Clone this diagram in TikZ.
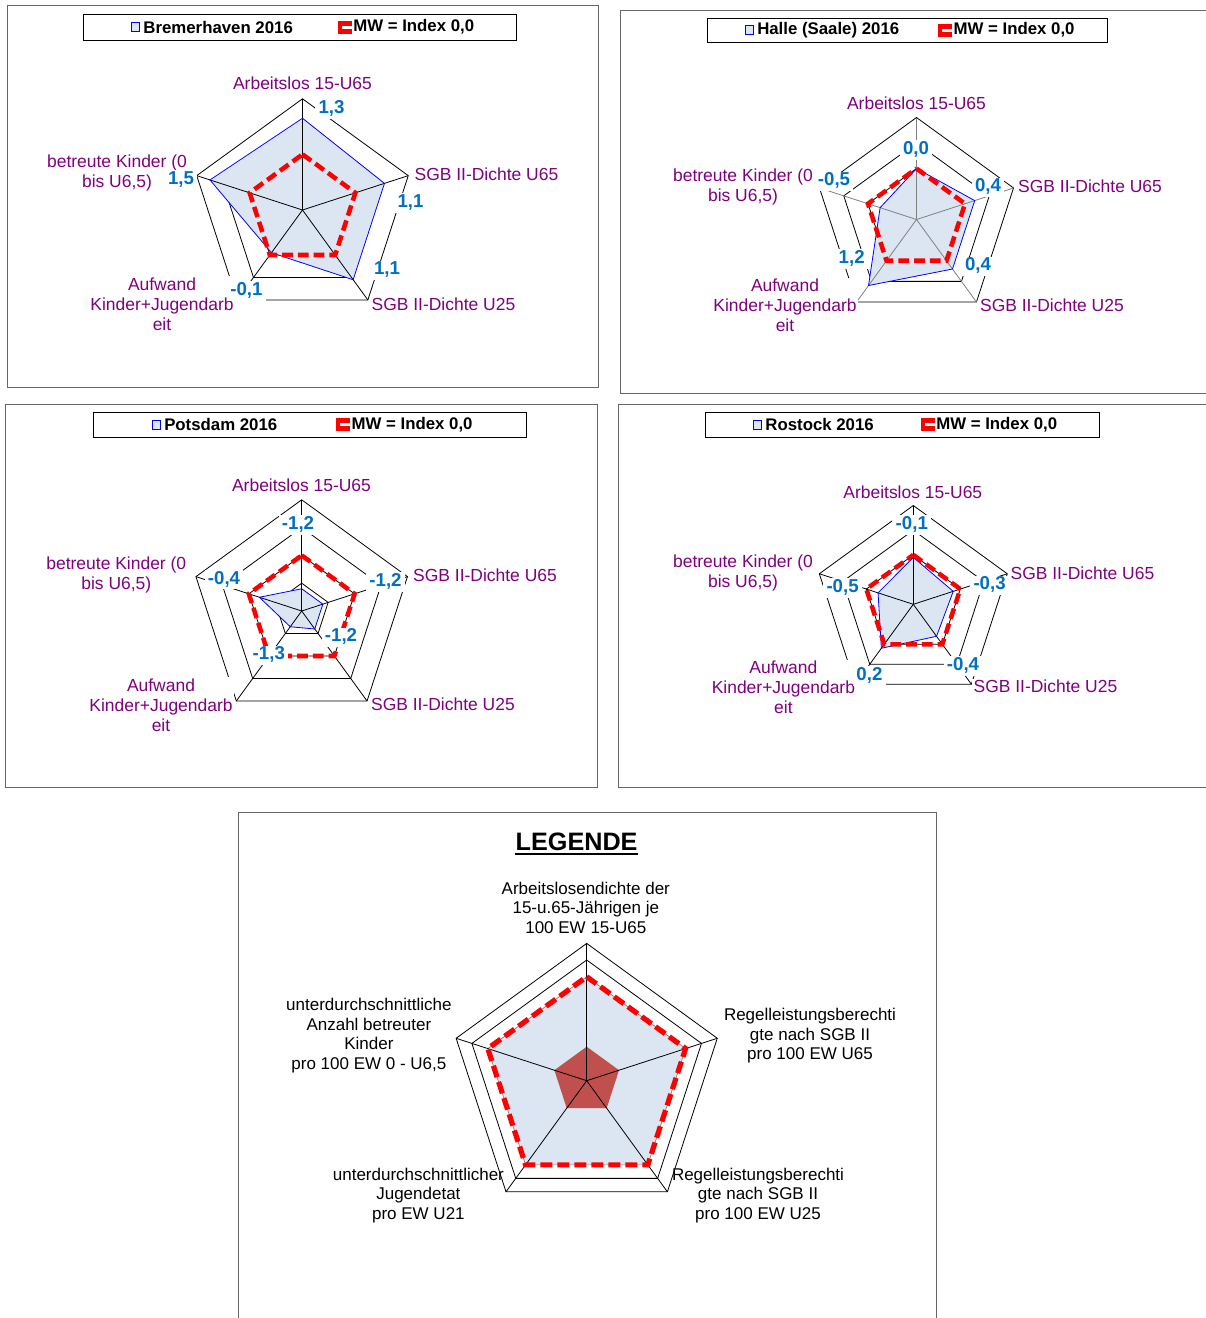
\documentclass[tikz,border=0pt]{standalone}
\usepackage{fontspec}
\setmainfont{Liberation Sans}
\usetikzlibrary{positioning}
\definecolor{catpurple}{RGB}{128,0,128}
\definecolor{valblue}{RGB}{0,112,192}
\definecolor{serfill}{RGB}{220,230,242}
\definecolor{mwred}{RGB}{255,0,0}
\definecolor{kernred}{RGB}{192,80,77}
% radar: centre, unit, spoke colour, five values (top, then clockwise)
\newcommand{\radar}[8]{%
  \begin{scope}[shift={#1}]
    \foreach \r in {1,2,3,4}
      \draw[rgrid] (-90:{#2*\r}) \foreach \a in {-18,54,126,198} {-- (\a:{#2*\r})} -- cycle;
    \fill[rfill] (-90:{#2*(#4+2)}) -- (-18:{#2*(#5+2)}) -- (54:{#2*(#6+2)}) -- (126:{#2*(#7+2)}) -- (198:{#2*(#8+2)}) -- cycle;
    \foreach \a in {-90,-18,54,126,198}
      \draw[#3, line width=0.6pt] (0,0) -- (\a:{4*#2});
    \draw[rline] (-90:{#2*(#4+2)}) -- (-18:{#2*(#5+2)}) -- (54:{#2*(#6+2)}) -- (126:{#2*(#7+2)}) -- (198:{#2*(#8+2)}) -- cycle;
    \draw[rmw] (-90:{2*#2}) \foreach \a in {-18,54,126,198} {-- (\a:{2*#2})} -- cycle;
  \end{scope}}
\newcommand{\cats}[6]{%
  \node[catl] (#1-arb) at (#2) {Arbeitslos 15-U65};
  \node[catl, anchor=west] (#1-u65) at (#3) {SGB II-Dichte U65};
  \node[catl, anchor=west] (#1-u25) at (#4) {SGB II-Dichte U25};
  \node[catl] (#1-auf) at (#5) {Aufwand\\Kinder+Jugendarb\\eit};
  \node[catl] (#1-bet) at (#6) {betreute Kinder (0\\bis U6,5)};}
\newcommand{\vlab}[3]{\node[vall] (#1) at (#2) {#3};}
\newcommand{\lgnd}[7]{%
  \draw[lgbox] (#2) rectangle (#3);
  \draw[lgsq] (#4,{#6-4.5}) rectangle ++(8,9);
  \node[lgtxt] (#1-ttl) at ({#4+11.5},#6) {#7};
  \fill[mwred] (#5,{#6-6.5}) rectangle ++(13.5,13);
  \fill[white] ({#5+3.5},{#6-1.5}) rectangle ++(10,3);
  \node[lgtxt] (#1-mw) at ({#5+15},#6) {MW = Index 0,0};}
\tikzset{
  frm/.style={draw=black!60, line width=0.75pt},
  lgbox/.style={draw=black, line width=0.75pt},
  lgsq/.style={draw=blue, fill=serfill, line width=0.6pt},
  lgtxt/.style={font=\fontsize{12.6}{15}\selectfont\bfseries, anchor=west, inner sep=0pt},
  rgrid/.style={black, line width=0.6pt},
  rfill/.style={fill=serfill},
  rline/.style={draw=blue, line width=0.6pt},
  rmw/.style={draw=mwred, line width=3.4pt, dash pattern=on 8pt off 3.8pt},
  catl/.style={font=\fontsize{13.1}{15}\selectfont, text=catpurple, align=center, fill=white, inner sep=1pt},
  vall/.style={font=\fontsize{14}{15}\selectfont\bfseries, text=valblue, fill=white,
    inner xsep=2.5pt, inner ysep=1.5pt, text height=0.9em, text depth=0.25em},
  leglab/.style={font=\fontsize{12.75}{14.6}\selectfont, align=center, inner sep=1pt},
}
\begin{document}
\begin{tikzpicture}[x=0.75pt,y=-0.75pt]
\useasboundingbox (0,0) rectangle (1206,1318);
% frames
\draw[frm] (7,5) rectangle (598,387);
\draw[frm] (1210,10) -- (620.7,10) -- (620.7,393.3) -- (1210,393.3);
\draw[frm] (5.7,404) rectangle (597,787.7);
\draw[frm] (1210,404) -- (618,404) -- (618,787.7) -- (1210,787.7);
\draw[frm] (238.2,1320) -- (238.2,812.7) -- (936.4,812.7) -- (936.4,1320);
% Bremerhaven
\radar{(302.5,210)}{27.8}{black}{1.3}{1.1}{1.1}{-0.1}{1.5}
\cats{bh}{302.5,83}{413,174}{370,304}{162,304}{117,173}
\vlab{bh-v1}{331.5,109}{1,3}
\vlab{bh-v2}{410.5,203}{1,1}
\vlab{bh-v3}{387,270.5}{1,1}
\vlab{bh-v4}{246.4,291}{-0,1}
\vlab{bh-v5}{181,180}{1,5}
\lgnd{bh}{83.5,14.7}{516,40}{131.7}{338}{27}{Bremerhaven 2016}
% Halle
\radar{(916.5,219.5)}{25.5}{gray}{0.0}{0.4}{0.4}{1.2}{-0.5}
\cats{ha}{916.5,103}{1016.6,186.5}{978.5,305.5}{785,305.5}{743,186.5}
\vlab{ha-v1}{916,150}{0,0}
\vlab{ha-v2}{988,187.5}{0,4}
\vlab{ha-v3}{978,266.5}{0,4}
\vlab{ha-v4}{851.7,259}{1,2}
\vlab{ha-v5}{834,181.5}{-0,5}
\lgnd{ha}{707.3,18.3}{1107,42.7}{745.5}{938.4}{30}{Halle (Saale) 2016}
% Potsdam
\radar{(301.7,611)}{27.8}{black}{-1.2}{-1.2}{-1.2}{-1.3}{-0.4}
\cats{po}{301.5,485}{411.6,575}{369.5,704.7}{161,705}{116.3,575}
\vlab{po-v1}{298,525}{-1,2}
\vlab{po-v2}{385.5,582}{-1,2}
\vlab{po-v3}{341,637.5}{-1,2}
\vlab{po-v4}{268.8,655.5}{-1,3}
\vlab{po-v5}{224,579.7}{-0,4}
\lgnd{po}{93,412.7}{526,437.3}{152.5}{336.4}{424.5}{Potsdam 2016}
% Rostock
\radar{(913.3,604.3)}{24.7}{black}{-0.1}{-0.3}{-0.4}{0.2}{-0.5}
\cats{ro}{912.8,492.5}{1009,573}{972,686.7}{783.4,687.5}{743,573}
\vlab{ro-v1}{911.8,525}{-0,1}
\vlab{ro-v2}{989.6,585.5}{-0,3}
\vlab{ro-v3}{963,666}{-0,4}
\vlab{ro-v4}{869.4,676}{0,2}
\vlab{ro-v5}{842.6,588}{-0,5}
\lgnd{ro}{705.5,412.3}{1099.4,437.7}{753.7}{921}{424.5}{Rostock 2016}
% Legende
\begin{scope}[shift={(586.7,1080.7)}]
  \foreach \r in {120.7,137.3}
    \draw[rgrid] (-90:\r) \foreach \a in {-18,54,126,198} {-- (\a:\r)} -- cycle;
  \filldraw[rfill, draw=gray, line width=0.5pt] (-90:104) \foreach \a in {-18,54,126,198} {-- (\a:104)} -- cycle;
  \fill[kernred] (-90:34) \foreach \a in {-18,54,126,198} {-- (\a:34)} -- cycle;
  \foreach \a in {-90,-18,54,126,198}
    \draw[rgrid] (0,0) -- (\a:137.3);
  \draw[rmw, line width=3.9pt, dash pattern=on 9pt off 3.75pt] (-90:104) \foreach \a in {-18,54,126,198} {-- (\a:104)} -- cycle;
\end{scope}
\node[font=\fontsize{18.9}{22}\selectfont\bfseries, inner sep=0pt] (lg-ttl) at (576.6,842) {LEGENDE};
\draw[line width=1.6pt] ([yshift=-2.2pt]lg-ttl.base west) -- ([yshift=-2.2pt]lg-ttl.base east);
\node[leglab] (lg-arb) at (585.8,907.7) {Arbeitslosendichte der\\15-u.65-Jährigen je\\100 EW 15-U65};
\node[leglab] (lg-u65) at (810,1036) {Regelleistungsberechti\\gte nach SGB II\\pro 100 EW U65};
\node[leglab] (lg-u25) at (758,1195.5) {Regelleistungsberechti\\gte nach SGB II\\pro 100 EW U25};
\node[leglab] (lg-jug) at (418.4,1195.5) {unterdurchschnittlicher\\Jugendetat\\pro EW U21};
\node[leglab] (lg-kit) at (368.9,1035.7) {unterdurchschnittliche\\Anzahl betreuter\\Kinder\\pro 100 EW 0 - U6,5};
\end{tikzpicture}
\end{document}
